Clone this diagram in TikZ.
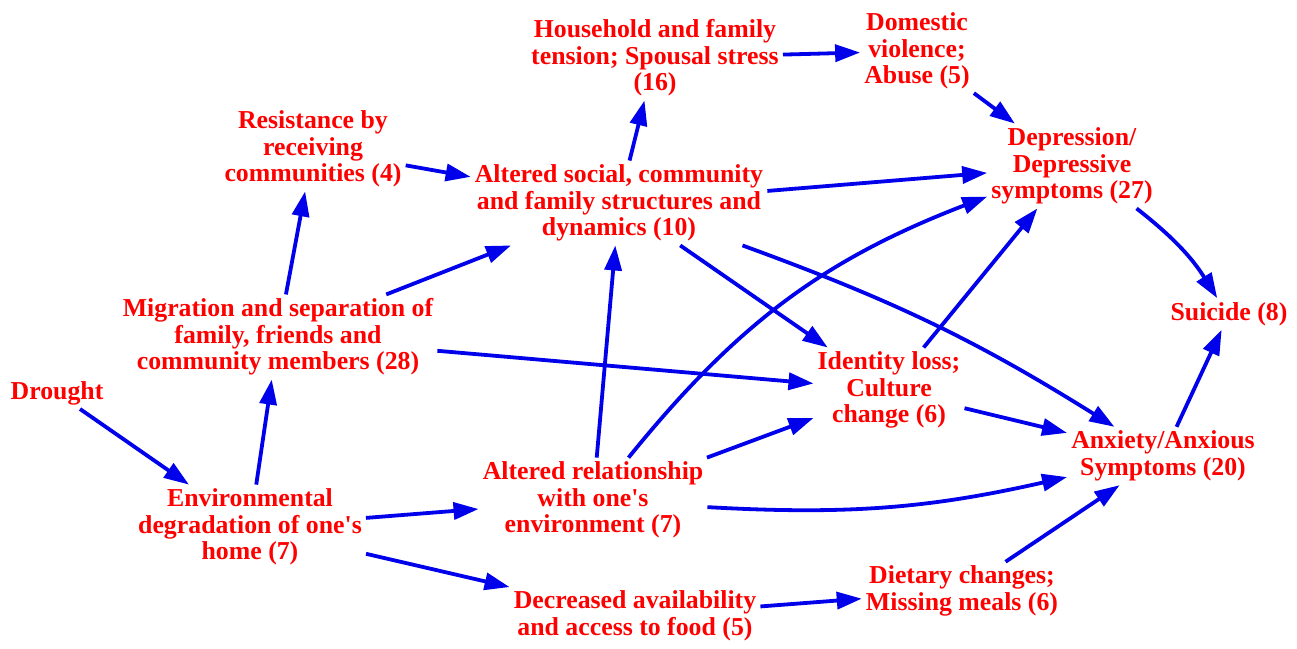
\documentclass[tikz,border=0pt]{standalone}
\usepackage{fontspec}
\setmainfont{Liberation Serif}
\usetikzlibrary{arrows.meta}
\definecolor{txtred}{RGB}{255,0,0}
\definecolor{arrblue}{RGB}{0,0,235}
\begin{document}
\begin{tikzpicture}[x=1pt,y=-1pt,
  lbl/.style={text=txtred,font=\fontsize{25.8}{26.5}\selectfont\bfseries,align=center,inner sep=4pt},
  arr/.style={draw=arrblue,line width=3.8pt,-{Triangle[length=25pt,width=17pt]}}]
\useasboundingbox (0,0) rectangle (1297,648);
\node[lbl] (drought) at (57,393) {Drought};
\node[lbl] (env) at (250,527) {Environmental\\degradation of one\textquotesingle s\\home (7)};
\node[lbl] (mig) at (278,337) {Migration and separation of\\family, friends and\\community members (28)};
\node[lbl] (res) at (313,149) {Resistance by\\receiving\\communities (4)};
\node[lbl] (soc) at (619,203) {Altered social, community\\and family structures and\\dynamics (10)};
\node[lbl] (house) at (655,58) {Household and family\\tension; Spousal stress\\(16)};
\node[lbl] (dom) at (917,51) {Domestic\\violence;\\Abuse (5)};
\node[lbl] (dep) at (1072,166) {Depression/\\Depressive\\symptoms (27)};
\node[lbl] (sui) at (1229,314) {Suicide (8)};
\node[lbl] (id) at (889,390) {Identity loss;\\Culture\\change (6)};
\node[lbl] (anx) at (1163,456) {Anxiety/Anxious\\Symptoms (20)};
\node[lbl] (rel) at (593,500) {Altered relationship\\with one\textquotesingle s\\environment (7)};
\node[lbl] (food) at (635,616) {Decreased availability\\and access to food (5)};
\node[lbl] (diet) at (962,591) {Dietary changes;\\Missing meals (6)};
\draw[arr] (drought) -- (env);
\draw[arr] (env) -- (mig);
\draw[arr] (mig) -- (res);
\draw[arr] (mig) -- (soc);
\draw[arr] (res) -- (soc);
\draw[arr] (mig) -- (id);
\draw[arr] (env) -- (rel);
\draw[arr] (env) -- (food);
\draw[arr] (rel) -- (soc);
\draw[arr] (rel) to[bend left=15] (dep);
\draw[arr] (rel) -- (id);
\draw[arr] (rel) to[bend right=8] (anx);
\draw[arr] (soc) -- (house);
\draw[arr] (house) -- (dom);
\draw[arr] (dom) -- (dep);
\draw[arr] (soc) -- (dep);
\draw[arr] (soc) -- (id);
\draw[arr] (soc) to[bend left=6] (anx);
\draw[arr] (id) -- (dep);
\draw[arr] (id) -- (anx);
\draw[arr] (dep) to[bend left=10] (sui);
\draw[arr] (anx) -- (sui);
\draw[arr] (diet) -- (anx);
\draw[arr] (food) -- (diet);
\end{tikzpicture}
\end{document}
